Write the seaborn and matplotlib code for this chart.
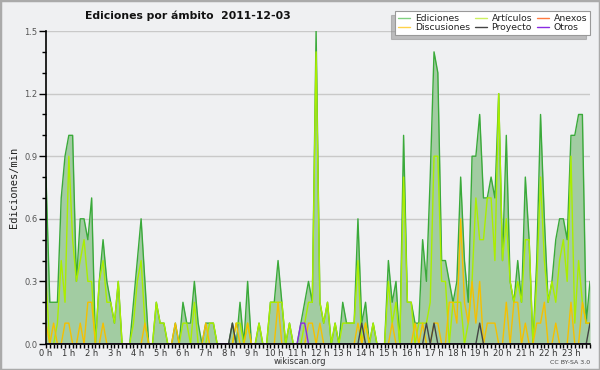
import numpy as np
import pandas as pd
import matplotlib
matplotlib.use("Agg")
import matplotlib.pyplot as plt
from matplotlib.ticker import MultipleLocator, FixedLocator, FuncFormatter
from matplotlib.patches import Rectangle
from matplotlib.lines import Line2D
import seaborn as sns

# ---- data (edits per minute, 10-minute buckets, 0:00 .. 23:50) ----
ediciones = [
    0.8, 0.2, 0.2, 0.2, 0.7, 0.9, 1.0, 1.0, 0.3, 0.6, 0.6, 0.5,
    0.7, 0.0, 0.3, 0.5, 0.3, 0.2, 0.1, 0.3, 0.0, 0.0, 0.0, 0.2,
    0.4, 0.6, 0.3, 0.0, 0.0, 0.2, 0.1, 0.1, 0.0, 0.0, 0.1, 0.0,
    0.2, 0.1, 0.1, 0.3, 0.1, 0.0, 0.1, 0.1, 0.1, 0.0, 0.0, 0.0,
    0.0, 0.1, 0.0, 0.2, 0.0, 0.3, 0.0, 0.0, 0.1, 0.0, 0.0, 0.2,
    0.2, 0.4, 0.2, 0.0, 0.1, 0.0, 0.0, 0.1, 0.2, 0.3, 0.2, 1.5,
    0.2, 0.1, 0.2, 0.0, 0.1, 0.0, 0.2, 0.1, 0.1, 0.1, 0.6, 0.1,
    0.2, 0.0, 0.1, 0.0, 0.0, 0.0, 0.4, 0.2, 0.3, 0.0, 1.0, 0.2,
    0.2, 0.1, 0.1, 0.5, 0.3, 0.8, 1.4, 1.3, 0.4, 0.4, 0.3, 0.2,
    0.3, 0.8, 0.4, 0.2, 0.9, 0.9, 1.1, 0.7, 0.7, 0.8, 0.7, 1.2,
    0.4, 1.0, 0.3, 0.2, 0.4, 0.2, 0.8, 0.5, 0.0, 0.4, 1.1, 0.6,
    0.2, 0.3, 0.5, 0.6, 0.6, 0.5, 1.0, 1.0, 1.1, 1.1, 0.1, 0.3,
]
articulos = [
    0.3, 0.0, 0.0, 0.1, 0.4, 0.2, 0.9, 0.5, 0.3, 0.4, 0.5, 0.3,
    0.3, 0.0, 0.3, 0.4, 0.2, 0.2, 0.1, 0.3, 0.0, 0.0, 0.0, 0.1,
    0.3, 0.4, 0.1, 0.0, 0.0, 0.2, 0.1, 0.1, 0.0, 0.0, 0.0, 0.0,
    0.1, 0.1, 0.0, 0.2, 0.0, 0.0, 0.0, 0.1, 0.1, 0.0, 0.0, 0.0,
    0.0, 0.0, 0.1, 0.1, 0.0, 0.1, 0.0, 0.0, 0.1, 0.0, 0.0, 0.2,
    0.2, 0.2, 0.2, 0.0, 0.1, 0.0, 0.0, 0.0, 0.1, 0.2, 0.2, 1.4,
    0.2, 0.1, 0.2, 0.0, 0.1, 0.0, 0.1, 0.1, 0.1, 0.1, 0.4, 0.0,
    0.1, 0.0, 0.1, 0.0, 0.0, 0.0, 0.3, 0.1, 0.2, 0.0, 0.8, 0.2,
    0.2, 0.0, 0.1, 0.1, 0.1, 0.2, 0.9, 0.9, 0.3, 0.3, 0.0, 0.2,
    0.2, 0.2, 0.0, 0.1, 0.3, 0.7, 0.5, 0.5, 0.7, 0.7, 0.4, 1.2,
    0.4, 0.6, 0.3, 0.2, 0.3, 0.2, 0.5, 0.5, 0.0, 0.3, 0.8, 0.4,
    0.2, 0.3, 0.2, 0.4, 0.5, 0.3, 0.9, 0.1, 0.4, 0.2, 0.1, 0.1,
]
discusiones = [
    0.1, 0.0, 0.1, 0.0, 0.0, 0.1, 0.1, 0.0, 0.0, 0.1, 0.0, 0.2,
    0.2, 0.0, 0.0, 0.1, 0.0, 0.0, 0.0, 0.0, 0.0, 0.0, 0.0, 0.0,
    0.0, 0.0, 0.1, 0.0, 0.0, 0.0, 0.0, 0.0, 0.0, 0.0, 0.1, 0.0,
    0.0, 0.0, 0.0, 0.0, 0.0, 0.0, 0.1, 0.0, 0.0, 0.0, 0.0, 0.0,
    0.0, 0.0, 0.1, 0.0, 0.0, 0.1, 0.0, 0.0, 0.0, 0.0, 0.0, 0.0,
    0.0, 0.2, 0.0, 0.0, 0.0, 0.0, 0.0, 0.0, 0.0, 0.1, 0.1, 0.0,
    0.1, 0.0, 0.0, 0.0, 0.0, 0.0, 0.0, 0.0, 0.0, 0.0, 0.1, 0.0,
    0.1, 0.0, 0.0, 0.0, 0.0, 0.0, 0.0, 0.1, 0.0, 0.0, 0.0, 0.0,
    0.0, 0.1, 0.0, 0.1, 0.0, 0.0, 0.1, 0.1, 0.0, 0.0, 0.2, 0.2,
    0.1, 0.6, 0.2, 0.1, 0.3, 0.1, 0.3, 0.0, 0.1, 0.1, 0.1, 0.0,
    0.0, 0.2, 0.0, 0.2, 0.2, 0.0, 0.1, 0.0, 0.0, 0.1, 0.1, 0.2,
    0.0, 0.0, 0.1, 0.0, 0.0, 0.0, 0.2, 0.0, 0.0, 0.2, 0.1, 0.1,
]
anexos = [0.0] * 144
proyecto = [0.0] * 144
for _i in (49, 83, 100, 102, 114, 143):
    proyecto[_i] = 0.1
otros = [0.0] * 144
for _i in (67, 68):
    otros[_i] = 0.1

hour_labels = [f"{h} h" for h in range(24)]
series_names = ["Ediciones", "Discusiones", "Artículos", "Proyecto", "Anexos", "Otros"]

# ---- styling ----
BG = "#eff0f2"
FILL = "#a2cca2"
C_ED_LINE = "#3aaa3a"
C_ED_LEG = "#80d080"
C_ART = "#aaee00"
C_ART_LEG = "#ccf060"
C_DIS = "#f5c000"
C_DIS_LEG = "#ffd24a"
C_PROY = "#444444"
C_ANEX = "#ff7a40"
C_OTROS = "#8a2be2"

sns.set_theme(style="ticks")
plt.rcParams["font.family"] = ["DejaVu Sans"]

n = len(ediciones)
hours = np.arange(n) / 6.0
df = pd.DataFrame({
    "hora": hours,
    "Ediciones": ediciones,
    "Artículos": articulos,
    "Discusiones": discusiones,
    "Anexos": anexos,
    "Proyecto": proyecto,
    "Otros": otros,
})

fig = plt.figure(figsize=(6.0, 3.7), dpi=100, facecolor=BG)
ax = fig.add_axes([46 / 600, 1 - 344 / 370, 544 / 600, 313 / 370])
ax.set_facecolor(BG)

ax.fill_between(df["hora"], 0, df["Ediciones"], color=FILL, lw=0, zorder=1)
sns.lineplot(data=df, x="hora", y="Ediciones", ax=ax, color=C_ED_LINE, lw=1.0, zorder=2)
sns.lineplot(data=df, x="hora", y="Artículos", ax=ax, color=C_ART, lw=1.0, zorder=3)
sns.lineplot(data=df, x="hora", y="Anexos", ax=ax, color=C_ANEX, lw=1.0, zorder=2)
sns.lineplot(data=df, x="hora", y="Discusiones", ax=ax, color=C_DIS, lw=1.0, zorder=4)
sns.lineplot(data=df, x="hora", y="Proyecto", ax=ax, color=C_PROY, lw=1.0, zorder=5)
sns.lineplot(data=df, x="hora", y="Otros", ax=ax, color=C_OTROS, lw=1.0, zorder=5)

ax.set_xlim(0, (n - 1) / 6.0)
ax.set_ylim(0, 1.5)
ax.yaxis.set_major_locator(MultipleLocator(0.3))
ax.yaxis.set_minor_locator(MultipleLocator(0.1))
ax.yaxis.set_major_formatter(FuncFormatter(lambda v, p: f"{v:.1f}"))
ax.xaxis.set_major_locator(FixedLocator(list(range(24))))
ax.set_xticklabels(hour_labels)
ax.xaxis.set_minor_locator(MultipleLocator(1 / 6))

ax.grid(axis="y", which="major", color="#c9c9c9", lw=1.0, zorder=0)
ax.set_axisbelow(True)
for s in ("top", "right"):
    ax.spines[s].set_visible(False)
for s in ("left", "bottom"):
    ax.spines[s].set_color("black")
    ax.spines[s].set_linewidth(1.2)
    ax.spines[s].set_zorder(6)

ax.tick_params(axis="y", which="major", length=5, width=1, color="black",
               labelsize=6, labelcolor="#555555", pad=1)
ax.tick_params(axis="y", which="minor", length=3, width=1, color="black")
ax.tick_params(axis="x", which="major", length=3, width=1, color="black",
               labelsize=6, labelcolor="#333333", pad=0.5)
ax.tick_params(axis="x", which="minor", length=3, width=1, color="black")

ax.set_xlabel("")
ax.set_ylabel("Ediciones/min", family="DejaVu Sans Mono", fontsize=7.5, color="#222222", labelpad=4)

fig.text(188 / 600, 1 - 16 / 370, "Ediciones por ámbito  2011-12-03", ha="center", va="center",
         fontsize=7.8, fontweight="bold", color="#111111")
fig.text(300 / 600, 1 - 362 / 370, "wikiscan.org", ha="center", va="center", fontsize=6, color="#333333")
fig.text(590 / 600, 1 - 362 / 370, "CC BY-SA 3.0", ha="right", va="center", fontsize=4.5, color="#444444")

# legend
leg_colors = [C_ED_LEG, C_DIS_LEG, C_ART_LEG, C_PROY, C_ANEX, C_OTROS]
handles = [Line2D([0], [0], color=c, lw=1.0) for c in leg_colors]
kw = dict(loc="upper right", bbox_to_anchor=(590 / 600, 1 - 11 / 370), bbox_transform=fig.transFigure,
          ncol=3, fontsize=6.7, frameon=True, fancybox=False, handlelength=1.3, handletextpad=0.5,
          columnspacing=0.5, labelspacing=0.05, borderpad=0.3, borderaxespad=0)
try:
    leg = ax.legend(handles, series_names, shadow={"ox": -3, "oy": -3, "color": "#8a8a8a"}, **kw)
except Exception:
    leg = ax.legend(handles, series_names, shadow=True, **kw)
leg.get_frame().set_facecolor("white")
leg.get_frame().set_edgecolor("#999999")
leg.get_frame().set_linewidth(0.8)
leg.set_zorder(10)
for t in leg.get_texts():
    t.set_color("#222222")

fig.patches.append(Rectangle((0, 0), 1, 1, transform=fig.transFigure, fill=False,
                             edgecolor="#aaaaaa", lw=2.5, zorder=20))

fig.savefig("out.png", dpi=100, facecolor=BG)
